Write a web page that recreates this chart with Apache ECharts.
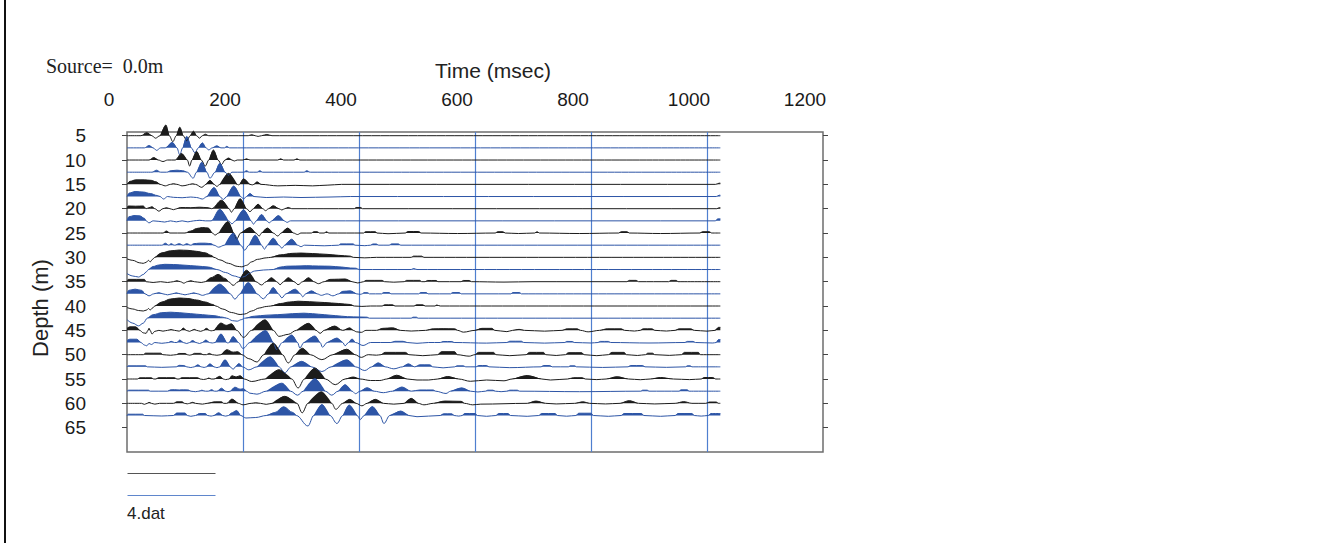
<!DOCTYPE html>
<html><head><meta charset="utf-8">
<script src="https://cdn.jsdelivr.net/npm/echarts@6/dist/echarts.min.js"></script>
<style>html,body{margin:0;padding:0;background:#fff}#c{width:1318px;height:543px}</style>
</head><body><div id="c"></div>
<script>
// Depth (m) of each trace baseline
const traceDepths = [5,7.5,10,12.5,15,17.5,20,22.5,25,27.5,30,32.5,35,37.5,40,42.5,45,47.5,50,52.5,55,57.5,60,62.5];
const depthTicks = [5,10,15,20,25,30,35,40,45,50,55,60,65];
// Each trace: [time (msec), amplitude] key points (peaks, troughs, zero crossings)
const tr05 = [[0,0],[24,0],[34,3],[43,0],[49,-2.5],[57,0],[67,10.7],[73,0],[79,-6],[85,0],[91,8.5],[97,0],[103,-5],[109,0],[114.5,4.5],[120,0],[125,-2.5],[130,0],[135,1.5],[141,0],[209,0],[215,1],[221,0],[226,-0.7],[232,0],[241,1.2],[250,0],[1023,0]];
const tr075 = [[0,0],[30,0],[38,2.3],[45,0],[51,-2.5],[58,0],[66,0],[78,5.5],[86,0],[91,-7],[96,0],[103,11.5],[111,0],[117,-5],[123,0],[130,5],[136,0],[141,-2],[147,0],[155,2],[162,0],[168,0],[172,1.5],[177,0],[1023,0]];
const tr10 = [[0,0],[38,0],[46,2.5],[54,0],[62,-1.5],[70,0],[83,0],[94,6.5],[104,0],[108,-6],[112,0],[120,8.5],[128,0],[135,-6],[141,0],[149,10],[157,0],[163,-4.5],[169,0],[175,2],[181,0],[185,-1],[190,0],[200,0],[206,1.2],[212,0],[260,0],[265,1.2],[270,0],[288,0],[293,1.2],[298,0],[1023,0]];
const tr125 = [[0,0],[43,0],[51,2],[58,0],[68,0],[76,1.5],[86,2],[96,1.5],[104,0],[114,-6],[120,0],[129,10],[137.5,0],[143,-6],[152,0],[160,9],[169,0],[175,-3],[181,0],[201,0],[206,1.5],[211,0],[224,0],[229,1.5],[234,0],[305,0],[310,1.5],[316,0],[1023,0]];
const tr15 = [[0,0],[5,3],[15,4.5],[30,4.5],[42,4],[50,2.5],[57,0],[66,-1.5],[75,0],[80,0.6],[86,0],[95,-1.5],[100,-1.2],[108,0],[113,0.5],[118,0],[129,-3],[136,0],[143,4],[150,0],[155,-2],[160,0],[175,11],[190,0],[192,-0.5],[194,0],[201,5.5],[212,0],[216,-0.5],[219,0],[224,2.5],[231,0],[260,-1.5],[290,-1],[320,-1.5],[345,-0.8],[370,0],[1015,0],[1021,1.2],[1023,1.2]];
const tr175 = [[0,0],[4,3.5],[14,5],[28,4.5],[40,3],[52,1],[57,0],[63,-2.5],[70,0],[80,-0.8],[95,-1.2],[110,-0.5],[120,-1],[130,-2.5],[138,0],[150,9],[160,0],[166,-3],[172,0],[184,10.5],[196,0],[201,-2.5],[206,0],[212,3],[219,0],[240,-1],[270,-0.5],[300,-1],[350,-0.5],[385,0],[1016,0],[1021,1.3],[1023,1.3]];
const tr20 = [[0,0],[2,2.7],[15,2.5],[28,2.7],[33,0],[38,1],[43,2],[48,0],[55,-2.5],[62,0],[68,1],[74,0],[80,-1],[86,0],[92,1.2],[110,1],[125,1.5],[140,1],[146,0],[163,8.5],[176,0],[180,-3.5],[185,0],[195,10],[206,0],[212,-3],[218,0],[226,4.5],[234,0],[239,-2],[244,0],[252,3],[262,0],[267,-1.3],[272,0],[278,1.3],[284,0],[392,0],[395,1.2],[403,1.2],[406,0],[1017,0],[1021,1],[1023,1]];
const tr225 = [[0,0],[3,4],[12,5.3],[22,5],[30,2.5],[33,0],[38,-2],[45,0],[55,-0.5],[65,-1.2],[75,0],[85,-1],[95,0],[105,-1],[115,0],[125,0.6],[135,0],[145,0],[160,11.5],[175,0],[181,-3],[187,0],[201,11],[214,0],[218,-3.3],[223,0],[232,6.3],[241,0],[245,-2],[250,0],[261,5.3],[271,0],[276,-1.5],[282,0],[1014,0],[1019,2],[1023,2]];
const tr25 = [[0,0],[62,0],[68,2],[74,0],[100,0],[110,2],[120,4.5],[130,5.5],[140,5],[147,0],[152,-2],[158,0],[174,11.5],[184,0],[189,-6],[196,0],[212,5.5],[222,0],[228,-3],[232,0],[242,5],[252,0],[260,-3],[266,0],[277,5],[287,0],[294,-1.5],[300,0],[318,0],[322,1.3],[328,1.3],[332,0],[340,0],[344,1.3],[348,0],[408,0],[411,1.3],[428,1.3],[431,0],[450,-0.7],[480,0],[484,1.5],[503,1.5],[507,0],[570,-0.5],[635,0],[639,1.3],[648,1.3],[652,0],[675,-0.5],[703,0],[707,1.3],[711,0],[780,-0.5],[848,0],[852,1.3],[862,1.3],[866,0],[920,-0.5],[988,0],[992,1.3],[1004,1.3],[1008,0],[1023,0]];
const tr275 = [[0,0],[60,0],[66,2],[72,0],[76,1.5],[82,0],[90,1.5],[97,0],[103,1.5],[110,0],[115,1.5],[125,2],[135,2],[145,1.5],[150,0],[158,-2],[168,0],[183,12],[196,0],[203,-5],[210,0],[221,10],[232,0],[237,-4],[242,0],[252,7],[262,0],[267,-3],[272,0],[284,6],[294,0],[300,-1.5],[306,0],[340,-0.6],[365,0],[368,1.3],[390,1.3],[393,0],[410,-0.5],[420,0],[424,1.2],[430,1.2],[434,0],[452,0],[456,1.3],[468,1.3],[472,0],[1023,0]];
const tr30 = [[0,-1.5],[10,-3],[22,-5.5],[28,-6],[33,-5],[37,-3],[40,-4.5],[44,-2],[48,0],[60,4.5],[75,6.5],[90,7.3],[105,7],[120,6],[135,4.5],[145,2],[150,0],[160,-2.5],[175,-6],[190,-9],[198,-9.5],[206,-8],[215,-4.5],[225,-2],[240,-0.5],[248,0],[265,2.5],[285,4],[300,4.3],[320,3.8],[345,3],[365,2],[385,1.2],[390,0],[410,-0.5],[430,0],[490,0],[494,1.2],[508,1.2],[512,0],[1023,0]];
const tr325 = [[0,-4],[10,-6.5],[20,-7.5],[28,-5],[34,-2],[37,0],[45,3],[55,4.5],[65,5.2],[80,5],[100,4.3],[120,3.5],[140,2.5],[155,0],[170,-3],[185,-6.5],[195,-8],[203,-7],[210,-4],[220,-1.5],[235,-0.5],[252,0],[265,2.5],[275,3.3],[290,3.5],[310,3.8],[330,3.5],[350,3.3],[370,2.5],[385,1.5],[395,1.3],[400,0],[490,0],[494,1],[500,0],[1023,0]];
const tr35 = [[0,0],[2,2.3],[30,2.3],[33,0],[45,-0.8],[58,0],[70,-0.8],[80,0],[86,1],[92,0],[98,-1.5],[104,0],[110,1],[116,0],[128,-0.8],[135,0],[145,4],[157,7.3],[170,3],[175,0],[183,-3.7],[192,0],[206,11.5],[222,0],[232,-3.3],[240,0],[249,4],[258,0],[264,-3],[270,0],[278,4],[288,0],[295,-3],[303,0],[313,4],[322,0],[330,-2],[340,0],[350,2.3],[365,2.5],[376,2.7],[388,0],[398,-1.3],[408,0],[412,1.3],[440,1.3],[444,0],[460,-0.5],[478,0],[482,1.3],[505,1.3],[508,0],[514,0],[518,1.2],[533,1.2],[536,0],[576,0],[580,1.2],[590,1.2],[594,0],[650,-0.4],[700,0],[862,0],[866,1.3],[878,1.3],[882,0],[934,0],[938,1.3],[947,1.3],[950,0],[1023,0]];
const tr375 = [[0,0],[3,3.5],[14,4.7],[25,3.5],[31,0],[38,-2],[46,0],[55,1.2],[62,0],[70,-1],[78,0],[85,1],[92,0],[100,-1],[108,0],[115,1],[122,0],[130,-1.5],[140,0],[160,9.7],[178,0],[186,-5.3],[195,0],[209,11.3],[224,0],[235,-5],[244,0],[252,6.3],[261,0],[267,-4],[274,0],[290,4.7],[299,0],[303,-3],[308,0],[318,3],[328,0],[335,-1.5],[345,0],[355,-2],[365,0],[372,2.5],[385,3],[396,0],[402,-0.5],[406,0],[408,1.2],[415,1.2],[418,0],[439,0],[442,1.3],[452,1.3],[455,0],[503,0],[506,1.3],[516,1.3],[519,0],[558,0],[561,1.3],[573,1.3],[576,0],[662,0],[665,1.3],[677,1.3],[680,0],[1023,0]];
const tr40 = [[0,-1.5],[10,-3],[20,-4.5],[28,-5],[34,-4],[37,-2.5],[40,-4],[44,-2],[48,0],[60,4],[75,7],[90,8],[105,7.5],[120,6],[135,4],[148,1.5],[153,0],[165,-3],[180,-6.5],[195,-8.5],[203,-8],[215,-5],[228,-2],[240,-0.5],[248,0],[265,2.5],[280,4],[295,4.8],[315,4.3],[340,3.5],[365,2.5],[385,1.5],[392,0],[405,-0.4],[420,0],[440,0],[444,1.2],[458,1.2],[462,0],[495,0],[499,1.2],[510,1.2],[514,0],[531,0],[534,1],[540,0],[1023,0]];
const tr425 = [[0,-1.5],[10,-5],[20,-7.7],[28,-5],[35,0],[45,3.5],[60,5.5],[75,6],[90,5.5],[110,4.5],[130,3.5],[150,2.5],[165,1],[172,0],[182,-2.5],[190,-3],[197,-1.5],[203,0],[220,2],[240,3],[260,3.5],[285,4.5],[305,5],[320,4.5],[340,3.5],[360,2.5],[380,1.5],[400,1.2],[414,1],[418,0],[490,0],[493,1],[499,1],[502,0],[1023,0]];
const tr45 = [[0,2],[5,3.5],[15,3.5],[22,0],[28,-2.5],[33,-3],[36,0],[38,2],[40,0],[43,-3.7],[48,-1],[55,0],[62,-0.8],[70,0],[76,0.8],[82,0],[90,-0.8],[93,0],[97,2.3],[102,0],[108,-1],[112,0],[116,1],[120,0],[127,-1],[132,0],[137,2],[142,0],[145,-0.5],[150,0],[162,7.3],[171,5],[180,6.5],[189,0],[201,-7],[215,0],[238,10.5],[252,0],[262,-6],[278,-4],[292,0],[313,7],[326,0],[333,-3],[340,0],[358,4.3],[372,0],[384,2.5],[390,0],[396,-1.5],[404,-2],[412,0],[430,0],[441,2],[458,2.5],[471,0],[490,-0.7],[515,0],[528,1.5],[545,1.7],[565,1.5],[570,0],[580,-1.8],[600,0],[612,2],[629,2],[634,0],[655,-1.3],[665,0],[676,1],[685,0],[720,-0.8],[750,0],[759,1.5],[776,1.5],[782,0],[795,-1.5],[815,0],[828,1.5],[852,1.5],[858,0],[875,-0.7],[885,0],[890,1.5],[905,1.5],[910,0],[930,-0.7],[945,0],[952,1.5],[972,1.5],[978,0],[1000,-0.8],[1014,0],[1020,3],[1023,3]];
const tr475 = [[0,2],[5,3.3],[17,3.3],[24,0],[30,-2.5],[34,-3.3],[38,-1],[42,-2],[48,0],[60,-0.8],[72,0],[76,1.2],[82,0],[86,0],[91,2.5],[97,0],[103,-1],[108,0],[113,2],[119,0],[125,-1],[130,0],[136,2.5],[142,0],[147,-0.5],[152,0],[162,8.5],[172,0],[174,-0.5],[176,0],[183,6],[192,0],[200,-6],[212,0],[239,12],[252,0],[258,-7],[268,0],[284,7.5],[294,0],[298,-5.5],[305,0],[324,6.5],[333,0],[337,-4.7],[345,0],[362,4.5],[372,0],[376,-3.3],[382,0],[388,3.5],[394,0],[407,-3],[420,0],[455,0],[462,1.2],[476,1.2],[483,0],[500,-0.8],[520,0],[540,0],[545,1],[560,1],[564,0],[620,-0.6],[655,0],[660,1.3],[680,1.3],[684,0],[720,-0.6],[755,0],[758,1.1],[768,1],[771,0],[800,-0.5],[812,0],[816,1.1],[830,1.1],[834,0],[900,-0.5],[962,0],[966,1.1],[976,1.1],[980,0],[1010,-0.5],[1016,0],[1020,3],[1023,3]];
const tr50 = [[0,0],[28,0],[32,1.5],[58,1.5],[62,0],[75,-0.6],[85,0],[90,1.2],[100,1.2],[104,0],[108,-0.5],[112,0],[116,1.3],[127,1.3],[131,0],[137,0],[142,1.3],[147,0],[155,-0.6],[162,0],[172,5],[183,2.5],[191,3],[198,0],[210,-4],[224,-7.3],[236,0],[252,11.5],[268,0],[278,-8.3],[290,0],[302,6.5],[316,0],[336,-5],[355,0],[379,5.5],[393,0],[404,-2.7],[416,0],[430,-0.5],[438,0],[445,2.3],[480,2.3],[486,0],[510,-1],[536,0],[542,3],[565,3],[569,0],[590,-1.5],[600,0],[606,2.3],[632,2.3],[636,0],[660,-1],[688,0],[694,2.3],[718,2.3],[722,0],[740,-0.8],[756,0],[761,2],[784,2],[788,0],[810,-1],[830,0],[836,2.3],[857,2.3],[861,0],[880,-0.8],[894,0],[898,1.5],[906,1.5],[910,0],[935,-0.7],[956,0],[961,2.3],[985,2.3],[989,0],[1023,0]];
const tr525 = [[0,0],[2,1],[32,1],[35,0],[60,-0.5],[85,0],[90,1.5],[98,1.3],[103,0],[110,-0.7],[116,0],[122,2],[128,0],[133,-0.6],[137,0],[143,3],[150,0],[155,-0.8],[160,0],[169,7],[178,0],[183,-2.5],[187,0],[193,3.3],[199,0],[210,-3],[224,0],[247,10],[262,0],[272,-6],[283,0],[301,5.5],[318,0],[336,-4.7],[352,0],[379,7],[394,0],[410,-3.7],[422,0],[433,4],[445,0],[460,-2],[475,0],[485,3],[496,0],[505,2],[522,2],[527,0],[545,-1],[565,0],[569,1],[580,1],[584,0],[602,0],[606,1.3],[620,1.3],[624,0],[660,-0.8],[714,0],[718,1.3],[729,1.3],[733,0],[761,0],[764,1],[772,1],[775,0],[820,-0.6],[864,0],[868,1.3],[889,1.3],[893,0],[930,-0.5],[963,0],[966,1],[971,1],[974,0],[1023,0]];
const tr55 = [[0,0],[18,0],[22,1.2],[42,1.2],[46,0],[50,0],[54,1.3],[82,1.3],[86,0],[90,0],[94,1.3],[122,1.3],[126,0],[132,-0.5],[137,0],[141,1],[145,0],[150,0],[160,2.7],[166,0],[170,-0.6],[176,0],[181,3.3],[188,2],[195,3.3],[202,0],[215,-2.5],[238,0],[262,9.3],[284,0],[295,-9],[306,0],[324,11],[342,0],[359,-5.7],[376,0],[390,2],[402,0],[420,-1.5],[436,-1.5],[448,0],[465,3.8],[483,0],[500,-1],[520,-1],[536,0],[553,2.5],[572,0],[592,-2.3],[620,-1],[650,-1.8],[664,0],[690,3.5],[715,0],[730,-1],[760,0],[770,1.3],[785,1.3],[790,0],[810,-0.6],[826,0],[845,2.3],[865,0],[885,-0.7],[902,0],[920,1.5],[942,0],[970,-0.6],[990,0],[995,1.5],[1010,1.5],[1015,0],[1023,0]];
const tr575 = [[0,0],[3,1],[37,1],[40,0],[70,0],[75,1.3],[82,1.5],[90,1.2],[97,1.3],[106,1.2],[110,0],[118,-0.5],[124,0],[129,1],[135,0],[140,0],[146,1.5],[151,0],[155,0],[163,3],[170,0],[174,-0.5],[178,0],[186,4],[195,2],[201,2.5],[206,0],[212,-2],[224,-3],[240,0],[267,8],[282,0],[294,-4],[304,0],[324,12.5],[342,0],[353,-4],[364,0],[376,6.5],[388,0],[394,-2.5],[402,0],[414,3.5],[426,0],[442,-1.5],[458,0],[474,4.2],[490,0],[505,1.2],[528,1.2],[532,0],[550,-2.3],[558,0],[577,3.3],[592,0],[605,-0.8],[618,0],[622,1],[631,1],[635,0],[645,-0.5],[655,0],[660,1],[673,1],[677,0],[780,-0.5],[886,0],[889,1],[897,1],[900,0],[952,0],[955,1.3],[966,1.3],[969,0],[1023,0]];
const tr60 = [[0,0],[25,0],[30,-1],[35,0],[38,1],[42,0],[48,-0.8],[56,0],[80,0],[86,1.5],[95,1.5],[99,0],[104,-0.5],[108,0],[113,1],[118,0],[130,-0.8],[138,0],[152,1.5],[163,1.5],[167,0],[172,0],[181,4.3],[192,0],[200,-1.5],[214,0],[222,0.5],[230,0],[240,-1],[250,0],[272,7],[293,0],[302,-9.5],[312,0],[335,11.5],[353,0],[360,-6],[372,0],[384,4],[395,0],[405,-2.5],[414,0],[428,4],[442,0],[460,-0.8],[478,0],[490,5],[502,0],[512,-1.5],[528,0],[548,2.3],[576,2],[582,0],[596,-1.5],[610,-0.8],[690,0],[705,2.3],[722,0],[740,-0.6],[772,0],[786,1.5],[798,0],[825,-0.6],[850,0],[866,2.7],[882,0],[910,-0.6],[945,0],[960,1.7],[974,0],[998,0],[1004,1.3],[1016,1.3],[1020,0],[1023,0]];
const tr625 = [[0,0],[2,1.3],[27,1.3],[30,0],[60,-0.5],[80,0],[86,2.5],[100,2.5],[104,0],[110,-0.8],[118,0],[125,2],[135,2],[139,0],[145,-0.6],[150,0],[158,2.7],[165,0],[170,-0.6],[175,0],[180,2.5],[189,5],[196,0],[205,-2.5],[222,-2],[240,0],[255,3],[270,8.8],[286,3],[292,0],[312,-10.5],[322,0],[336,11],[350,0],[362,-8],[372,0],[383,10.5],[397,0],[402,-4],[409,0],[423,9],[436,0],[443,-8],[453,0],[472,4.5],[486,0],[500,-1.2],[540,0],[546,1.7],[560,1.7],[564,0],[572,-0.6],[578,0],[582,2],[600,2],[604,0],[620,-0.8],[636,0],[641,2],[657,2],[661,0],[690,-0.8],[710,0],[715,2],[738,2],[742,0],[758,-0.7],[774,0],[779,2.3],[800,2.3],[804,0],[830,-0.8],[852,0],[857,2],[887,2],[891,0],[920,-0.8],[945,0],[950,2],[974,2],[978,0],[990,-0.6],[1002,0],[1007,2],[1023,2]];

const traces = [tr05,tr075,tr10,tr125,tr15,tr175,tr20,tr225,tr25,tr275,tr30,tr325,tr35,tr375,tr40,tr425,tr45,tr475,tr50,tr525,tr55,tr575,tr60,tr625];

// display gain: metres of depth axis per amplitude unit
const GAIN = 0.2055;
const BLACK = '#1c1c1c', BLUE = '#2d55a6';
const SANS = '"Liberation Sans",Arial,sans-serif';

const series = [];
traces.forEach((tr, i) => {
  const d = traceDepths[i];
  const col = (i % 2 === 0) ? BLACK : BLUE;
  series.push({
    type: 'line', yAxisIndex: 0, symbol: 'none', silent: true, z: 2, clip: false,
    smooth: 0.35, smoothMonotone: 'x',
    data: tr.map(p => p[1] >= 0 ? [p[0], d - p[1] * GAIN] : [p[0], '-']),
    lineStyle: { width: 0, opacity: 0 },
    areaStyle: { origin: d, color: col, opacity: 1 }
  });
  series.push({
    type: 'line', yAxisIndex: 0, symbol: 'none', silent: true, z: 3, clip: false,
    smooth: 0.35, smoothMonotone: 'x',
    data: tr.map(p => [p[0], d - p[1] * GAIN]),
    lineStyle: { width: 1, color: col }
  });
});

const chart = echarts.init(document.getElementById('c'), null, { renderer: 'svg' });
chart.setOption({
  animation: false,
  backgroundColor: '#fff',
  grid: { left: 127, top: 132, width: 696, height: 320, show: true, borderColor: '#6e6e6e', borderWidth: 1.5, containLabel: false },
  xAxis: {
    type: 'value', position: 'top', min: 0, max: 1200, interval: 200,
    axisLine: { show: false }, axisTick: { show: false },
    axisLabel: { fontFamily: SANS, fontSize: 19, color: '#1a1a1a', margin: 23, padding: [0, 36, 0, 0], formatter: v => String(v) },
    splitLine: { show: true, showMinLine: false, showMaxLine: false, lineStyle: { color: '#4f7fcf', width: 1.2 } }
  },
  yAxis: [{
    type: 'value', inverse: true, min: 4.24, max: 70, position: 'left',
    axisLine: { show: false },
    axisTick: { show: true, length: 5, customValues: depthTicks, lineStyle: { color: '#444' } },
    axisLabel: { customValues: depthTicks, fontFamily: SANS, fontSize: 19, color: '#1a1a1a', margin: 41, padding: [6, 0, 0, 0], formatter: v => String(v) },
    splitLine: { show: false }
  }, {
    type: 'value', inverse: true, min: 4.24, max: 70, position: 'right',
    axisLine: { show: false },
    axisTick: { show: true, length: 5, customValues: depthTicks, lineStyle: { color: '#444' } },
    axisLabel: { show: false },
    splitLine: { show: false }
  }],
  graphic: [
    { type: 'line', shape: { x1: 5, y1: 0, x2: 5, y2: 543 }, style: { stroke: '#111', lineWidth: 2 } },
    { type: 'text', x: 46, y: 66, style: { text: 'Source=  0.0m', font: '20px "Liberation Serif", serif', fill: '#222', verticalAlign: 'middle' } },
    { type: 'text', x: 493, y: 70, style: { text: 'Time (msec)', font: '21px ' + SANS, fill: '#222', align: 'center', verticalAlign: 'middle' } },
    { type: 'text', x: 40, y: 308, rotation: Math.PI / 2, style: { text: 'Depth (m)', font: '22px ' + SANS, fill: '#222', align: 'center', verticalAlign: 'middle' } },
    { type: 'line', shape: { x1: 127.5, y1: 473.5, x2: 215.5, y2: 473.5 }, style: { stroke: '#555', lineWidth: 1 } },
    { type: 'line', shape: { x1: 127.5, y1: 495.5, x2: 215.5, y2: 495.5 }, style: { stroke: '#5f86cc', lineWidth: 1 } },
    { type: 'text', x: 127, y: 513, style: { text: '4.dat', font: '17px ' + SANS, fill: '#222', verticalAlign: 'middle' } }
  ],
  series: series
});
</script>
</body></html>
